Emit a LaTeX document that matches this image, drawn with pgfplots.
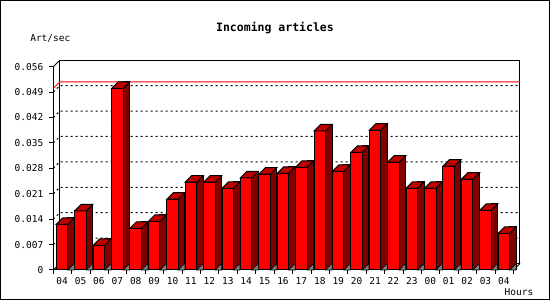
\documentclass[border=0pt]{standalone}
\usepackage{fontspec}
\setmonofont{DejaVu Sans Mono}
\usepackage{pgfplots}
\pgfplotsset{compat=1.18}
\usepackage{pgfplotstable}
\definecolor{frontred}{RGB}{255,0,0}
\definecolor{sidered}{RGB}{128,0,0}
\definecolor{topred}{RGB}{192,0,0}
\definecolor{shadowgray}{RGB}{128,128,128}
\pgfdeclareplotmark{topface}{%
  \pgfpathmoveto{\pgfpoint{-6.15pt}{0pt}}%
  \pgfpathlineto{\pgfpoint{5.35pt}{0pt}}%
  \pgfpathlineto{\pgfpoint{11.85pt}{6.5pt}}%
  \pgfpathlineto{\pgfpoint{0.35pt}{6.5pt}}%
  \pgfpathclose
  \pgfusepathqfillstroke}
\pgfdeclareplotmark{floorshadow}{%
  \pgfpathmoveto{\pgfpoint{5.35pt}{0pt}}%
  \pgfpathlineto{\pgfpoint{11.85pt}{6.5pt}}%
  \pgfpathlineto{\pgfpoint{11.85pt}{0pt}}%
  \pgfpathclose
  \pgfusepathqfillstroke}
\pgfplotstableread{
i v
0 0.0126
1 0.0163
2 0.0068
3 0.0500
4 0.0115
5 0.0134
6 0.0195
7 0.0242
8 0.0242
9 0.0225
10 0.0254
11 0.0264
12 0.0266
13 0.0283
14 0.0383
15 0.0272
16 0.0324
17 0.0385
18 0.0297
19 0.0225
20 0.0225
21 0.0286
22 0.0250
23 0.0164
24 0.0101
}\arts
\begin{document}
\begin{tikzpicture}
\fill[white] (0pt,0pt) rectangle (550pt,300pt);
\begin{axis}[
  at={(53.3pt,30pt)}, anchor=south west,
  scale only axis, width=460.2pt, height=203.3pt,
  xmin=-0.5, xmax=24.5, ymin=0, ymax=0.056,
  clip=false,
  axis lines*=left,
  axis line style={line width=1pt,-},
  every tick/.style={black, line width=1pt},
  tick align=outside,
  major tick length=4pt, minor tick length=4pt,
  xtick={0,1,...,24},
  xticklabels={04,05,06,07,08,09,10,11,12,13,14,15,16,17,18,19,20,21,22,23,00,01,02,03,04},
  major x tick style={draw=none},
  minor xtick={-0.5,0.5,...,24.5},
  ytick={0,0.007,0.014,0.021,0.028,0.035,0.042,0.049,0.056},
  yticklabels={0,0.007,0.014,0.021,0.028,0.035,0.042,0.049,0.056},
  scaled y ticks=false,
  /pgf/number format/assume math mode=true,
  ticklabel style={font=\fontsize{9.5}{10}\selectfont\ttfamily},
  yticklabel style={xshift=-2.5pt},
  xticklabel style={xshift=-0.4pt},
]
% back plane and walls
\draw[line width=1pt] ([shift={(6.5pt,6.5pt)}]rel axis cs:0,0) rectangle ([shift={(6.5pt,6.5pt)}]rel axis cs:1,1);
\draw[line width=1pt] (rel axis cs:0,1) -- ([shift={(6.5pt,6.5pt)}]rel axis cs:0,1);
\draw[line width=1pt] (rel axis cs:0,0) -- ([shift={(6.5pt,6.5pt)}]rel axis cs:0,0);
\draw[line width=1pt] (rel axis cs:1,0) -- ([shift={(6.5pt,6.5pt)}]rel axis cs:1,0);
\pgfplotsinvokeforeach{0.007,0.014,0.021,0.028,0.035,0.042,0.049}{
  \draw[line width=1pt, dash pattern=on 2pt off 3pt] (axis cs:-0.5,#1) -- ([shift={(6.5pt,6.5pt)}]axis cs:-0.5,#1) -- ([shift={(6.5pt,6.5pt)}]axis cs:24.5,#1);
}
% max line
\draw[line width=1pt, red] (axis cs:-0.5,0.05) -- ([shift={(6.5pt,6.5pt)}]axis cs:-0.5,0.05) -- ([shift={(6.5pt,6.5pt)}]axis cs:24.5,0.05);
% side faces
\addplot[ybar, bar width=6.5pt, bar shift=8.6pt, fill=sidered, draw=black, line width=1pt]
  table[x=i, y expr=\thisrow{v}+0.00179] {\arts};
% floor shadows
\addplot[only marks, mark=floorshadow, mark options={fill=shadowgray, draw=black, line width=0.6pt, solid}]
  table[x=i, y expr=0] {\arts};
% front faces
\addplot[ybar, bar width=11.5pt, bar shift=-0.4pt, fill=frontred, draw=black, line width=1pt]
  table[x=i, y=v] {\arts};
% top faces
\addplot[only marks, mark=topface, mark options={fill=topred, draw=black, line width=1pt, solid}]
  table[x=i, y=v] {\arts};
\end{axis}
\node[font=\fontsize{11.5}{12}\selectfont\ttfamily\bfseries] at (275pt,272pt) {Incoming articles};
\node[font=\fontsize{9.5}{10}\selectfont\ttfamily] at (50.3pt,261.4pt) {Art/sec};
\node[font=\fontsize{9.5}{10}\selectfont\ttfamily] at (519pt,8pt) {Hours};
\draw[line width=1pt] (0.5pt,0.5pt) rectangle (549.5pt,299.5pt);
\pgfresetboundingbox
\useasboundingbox (0pt,0pt) rectangle (550pt,300pt);
\end{tikzpicture}
\end{document}
